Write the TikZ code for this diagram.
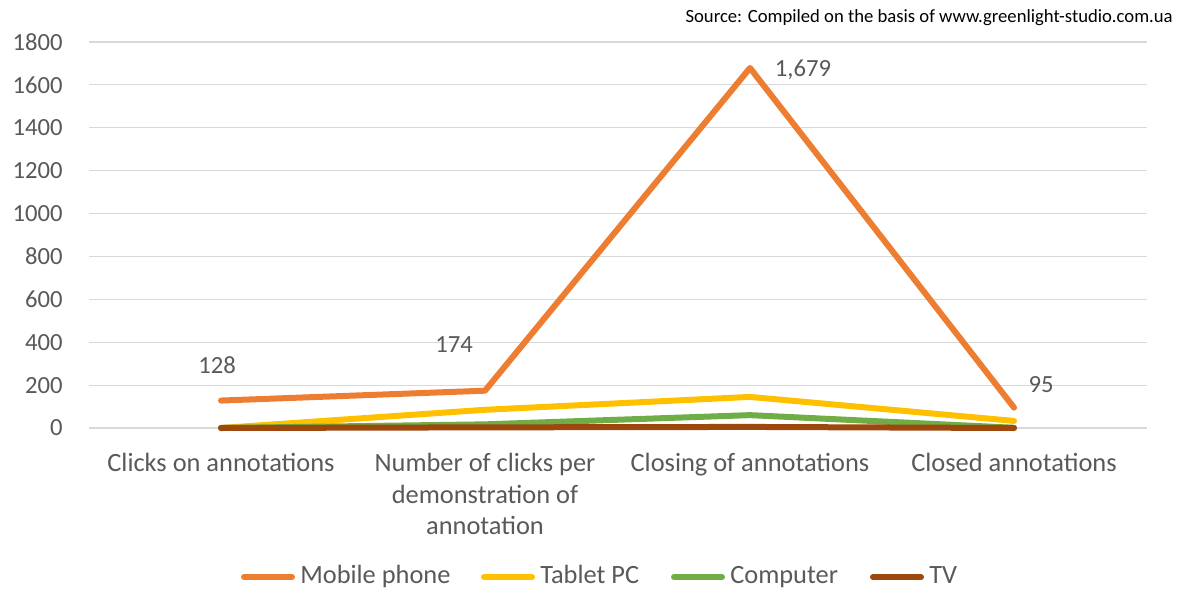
\documentclass[tikz,border=0pt]{standalone}
\usepackage{fontspec}
\setmainfont{Carlito}
\usepackage{tikz}
\usetikzlibrary{positioning}
\definecolor{mobile}{HTML}{ED7D31}
\definecolor{tablet}{HTML}{FFC000}
\definecolor{computer}{HTML}{70AD47}
\definecolor{tv}{HTML}{9E480E}
\definecolor{txtgray}{HTML}{595959}
\definecolor{gridgray}{HTML}{D9D9D9}

\begin{document}
\begin{tikzpicture}[x=0.75pt,y=-0.75pt,
    lbl/.style={text=txtgray,font=\fontsize{18.5}{23.6}\selectfont,inner sep=0pt},
    cat/.style={lbl,font=\fontsize{19.8}{23.6}\selectfont},
    grid/.style={draw=gridgray,line width=0.9pt},
    series/.style={line width=4.5pt,line cap=round,line join=round}]
  \useasboundingbox (0,0) rectangle (1184,592);

  % value axis and grid
  \foreach \v [count=\i from 0] in {0,200,...,1800} {
    \coordinate (gl\i) at (89,{428-\v*0.21444});
    \coordinate (gr\i) at (1147,{428-\v*0.21444});
    \draw[grid] (gl\i) -- (gr\i);
    \node[lbl,anchor=east] (ax\i) at (63,{428-\v*0.21444}) {\v};
  }

  % series
  \foreach \s/\c/\a/\b/\d/\e in {mob/mobile/128/174/1679/95,
                                 tab/tablet/0/85/145/33,
                                 com/computer/0/17/60/1,
                                 tvs/tv/0/3/5/0} {
    \coordinate (\s1) at (221,{428-\a*0.21444});
    \coordinate (\s2) at (485,{428-\b*0.21444});
    \coordinate (\s3) at (750,{428-\d*0.21444});
    \coordinate (\s4) at (1014,{428-\e*0.21444});
    \draw[series,\c] (\s1) -- (\s2) -- (\s3) -- (\s4);
  }

  % data labels
  \node[lbl] (v1) at (217,365) {128};
  \node[lbl] (v2) at (454,345) {174};
  \node[lbl] (v3) at (803,70) {1,679};
  \node[lbl] (v4) at (1041,385) {95};

  % categories
  \node[cat,anchor=north,align=center] (c1) at (221,453) {Clicks on annotations};
  \node[cat,anchor=north,align=center] (c2) at (485,453) {Number of clicks per\\demonstration of\\annotation};
  \node[cat,anchor=north,align=center] (c3) at (750,453) {Closing of annotations};
  \node[cat,anchor=north,align=center] (c4) at (1014,453) {Closed annotations};

  % legend
  \foreach \s/\c/\t/\x in {mob/mobile/Mobile phone/241,
                           tab/tablet/Tablet PC/481,
                           com/computer/Computer/671,
                           tvs/tv/TV/870} {
    \coordinate (k\s) at (\x+3,577);
    \node[cat,anchor=west,text height=9.6pt,text depth=0pt] (l\s) at (\x+59,577) {\t};
    \draw[series,\c,line width=4.5pt,shorten >=6pt] (k\s) -- (l\s.west);
  }

  % source
  \node[anchor=east,inner sep=0pt,font=\fontsize{14}{16}\selectfont] (src) at (1173,18)
    {Source: Compiled on the basis of www.greenlight-studio.com.ua};
\end{tikzpicture}
\end{document}
